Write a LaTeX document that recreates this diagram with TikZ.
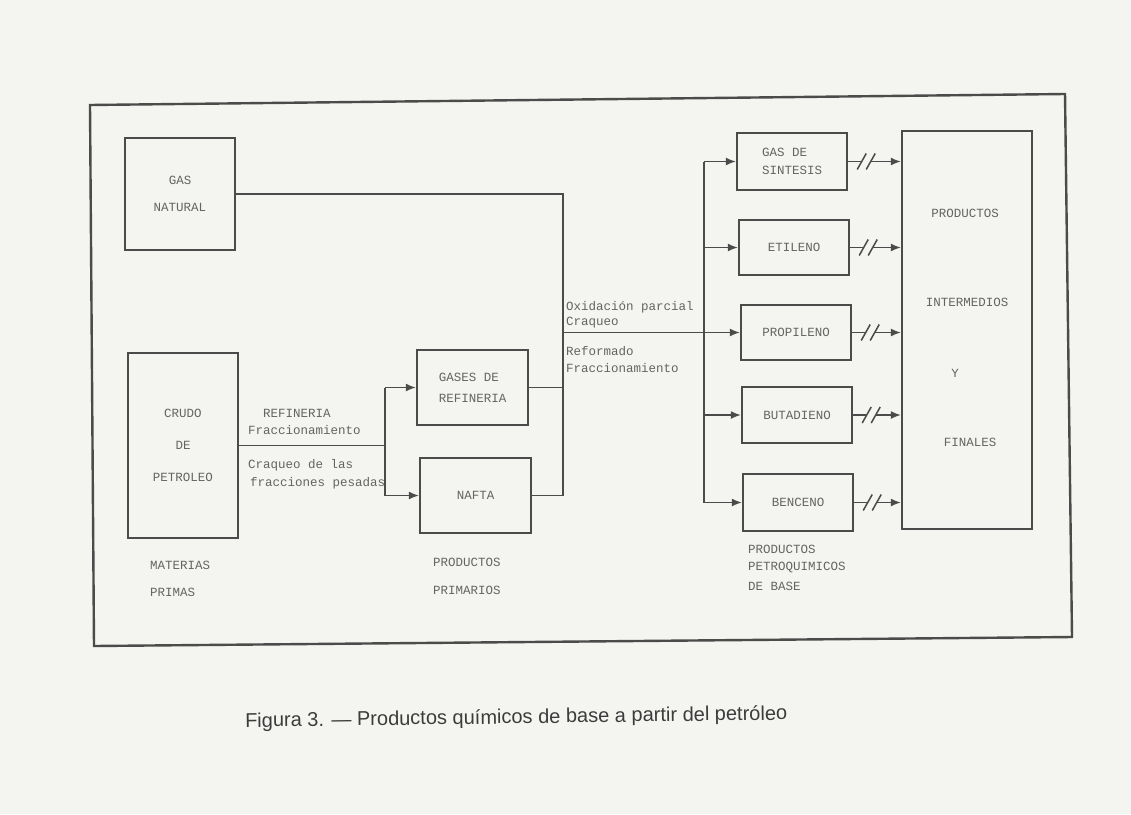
\documentclass[tikz,border=0pt]{standalone}
\usepackage{fontspec}
\setmainfont{Liberation Sans}
\setmonofont{Liberation Mono}
\usetikzlibrary{arrows.meta,calc}
\definecolor{paper}{RGB}{244,244,240}
\definecolor{ink}{RGB}{75,75,75}
\definecolor{txt}{RGB}{100,100,100}
\definecolor{capc}{RGB}{60,60,60}
\begin{document}
\begin{tikzpicture}[x=1pt,y=-1pt,
  box/.style={draw=ink, line width=2.4pt, align=center, inner sep=0pt,
    font=\ttfamily\fontsize{12.5}{15}\selectfont, text=txt},
  mono/.style={font=\ttfamily\fontsize{12.5}{15}\selectfont, text=txt, inner sep=0pt},
  lab/.style={mono, anchor=west},
  conn/.style={draw=ink, line width=1.5pt},
  arr/.style={-{Latex[length=10pt,width=8pt]}},
  frame/.style={draw=ink, line width=2.4pt}]
\fill[paper] (0,0) rectangle (1131,814);
\useasboundingbox (0,0) rectangle (1131,814);
\draw[frame] (90,105) -- (1065,94) -- (1072,637) -- (94,646) -- cycle;

% boxes
\node[box, minimum width=110pt, minimum height=112pt] (gn) at (180,194) {GAS\\[12pt]NATURAL};
\node[box, minimum width=110pt, minimum height=185pt] (cr) at (183,445.5) {CRUDO\\[17pt]DE\\[17pt]PETROLEO};
\node[box, minimum width=111pt, minimum height=75pt, align=left] (gr) at (472.5,387.5) {GASES DE\\[6pt]REFINERIA};
\node[box, minimum width=111pt, minimum height=75pt] (na) at (475.5,495.5) {NAFTA};
\node[box, minimum width=110pt, minimum height=57pt, align=left] (gs) at (792,161.5) {GAS DE\\[3pt]SINTESIS};
\node[box, minimum width=110pt, minimum height=55pt] (et) at (794,247.5) {ETILENO};
\node[box, minimum width=110pt, minimum height=55pt] (pr) at (796,332.5) {PROPILENO};
\node[box, minimum width=110pt, minimum height=56pt] (bu) at (797,415) {BUTADIENO};
\node[box, minimum width=110pt, minimum height=57pt] (be) at (798,502.5) {BENCENO};
\node[box, minimum width=130pt, minimum height=398pt] (big) at (967,330) {};

% text in big box
\node[mono] (t1) at (965,213) {PRODUCTOS};
\node[mono] (t2) at (967,302) {INTERMEDIOS};
\node[mono] (t3) at (955,373) {Y};
\node[mono] (t4) at (970,442) {FINALES};

% labels
\node[lab] (l1) at (263,413) {REFINERIA};
\node[lab] (l2) at (248,430) {Fraccionamiento};
\node[lab] (l3) at (248,465) {Craqueo de las};
\node[lab] (l4) at (250,483) {fracciones pesadas};
\node[lab] (m1) at (566,307) {Oxidación parcial};
\node[lab] (m2) at (566,323) {Craqueo};
\node[lab] (m3) at (566,351) {Reformado};
\node[lab] (m4) at (566,368) {Fraccionamiento};
\node[lab] (b1) at (150,565) {MATERIAS};
\node[lab] (b2) at (150,592) {PRIMAS};
\node[lab] (p1) at (433,562) {PRODUCTOS};
\node[lab] (p2) at (433,590) {PRIMARIOS};
\node[lab] (q1) at (748,549) {PRODUCTOS};
\node[lab] (q2) at (748,567) {PETROQUIMICOS};
\node[lab] (q3) at (748,586) {DE BASE};

% connectors, left part
\coordinate (lj) at (385,445);
\draw[conn] (cr.east) -- (lj |- cr.east);
\draw[conn] (lj |- gr.west) -- (lj |- na.west);
\draw[conn,arr] (lj |- gr.west) -- (gr.west);
\draw[conn,arr] (lj |- na.west) -- (na.west);

% middle collector
\coordinate (jx) at (563,493);
\coordinate (bus) at (704,333);
\draw[conn] (gn.east) -| (jx |- na.east) -- (na.east);
\draw[conn] (gr.east) -- (gr.east -| jx);
\draw[conn,arr] (jx |- pr.west) -- (pr.west);
\draw[conn] (bus |- gs.west) -- (bus |- be.west);
\foreach \n in {gs,et,bu,be}{
  \draw[conn,arr] (bus |- \n.west) -- (\n.west);
}

% right part with break marks
\foreach \n in {gs,et,pr,bu,be}{
  \draw[conn] (\n.east) -- ++(13,0);
  \draw[conn] ($(\n.east)+(9,8)$) -- ++(9,-16);
  \draw[conn] ($(\n.east)+(18,8)$) -- ++(9,-16);
  \draw[conn,arr] ($(\n.east)+(23,0)$) -- (\n.east -| big.west);
}

% caption
\node[font=\fontsize{20}{24}\selectfont, text=capc, anchor=west, inner sep=0pt, rotate=0.8] (cap) at (245,722) {Figura 3. — Productos químicos de base a partir del petróleo};
\end{tikzpicture}
\end{document}
